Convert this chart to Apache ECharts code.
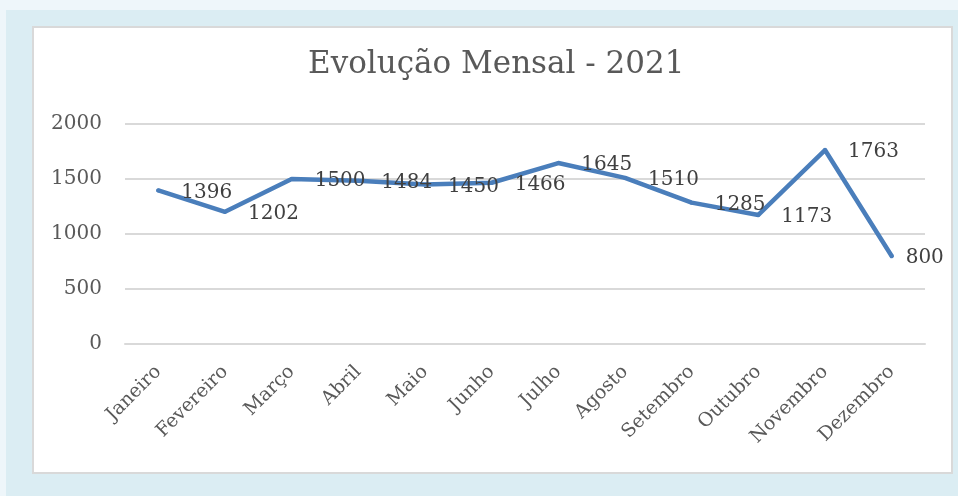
<!DOCTYPE html>
<html>
<head>
<meta charset="utf-8">
<script src="https://cdn.jsdelivr.net/npm/echarts@6/dist/echarts.min.js"></script>
<style>
  html, body { margin: 0; padding: 0; background: #eef6fa; }
  #main { width: 958px; height: 496px; }
</style>
</head>
<body>
<div id="main"></div>
<script>
var meses = ['Janeiro', 'Fevereiro', 'Março', 'Abril', 'Maio', 'Junho', 'Julho', 'Agosto', 'Setembro', 'Outubro', 'Novembro', 'Dezembro']
var valores = [1396, 1202, 1500, 1484, 1450, 1466, 1645, 1510, 1285, 1173, 1763, 800]
var titulo = 'Evolução Mensal - 2021'

var fonte = '"DejaVu Serif", "Liberation Serif", serif'

var chart = echarts.init(document.getElementById('main'))

// o ultimo rotulo fica mais perto do ponto (nao cabe na caixa)
var dados = valores.map(function (v, i) {
  if (i == valores.length - 1) return { value: v, label: { distance: 12 } }
  return v
})

var option = {
  backgroundColor: '#eef6fa',
  animation: false,
  // painel azul claro + caixa branca
  graphic: [
    { type: 'rect', z: -10, shape: { x: 6, y: 10, width: 952, height: 486 }, style: { fill: '#dbedf3' } },
    { type: 'rect', z: -9, shape: { x: 33, y: 27, width: 919, height: 446 }, style: { fill: '#ffffff', stroke: '#d9d9d9', lineWidth: 2 } }
  ],
  title: {
    text: titulo,
    left: 303,
    top: 44,
    textStyle: { fontFamily: fonte, fontSize: 31, fontWeight: 'normal', color: '#595959' }
  },
  grid: { left: 125, right: 33, top: 124, bottom: 152 },
  xAxis: {
    type: 'category',
    data: meses,
    boundaryGap: true,
    axisTick: { show: false },
    axisLine: { show: true, lineStyle: { color: '#d9d9d9', width: 2 } },
    axisLabel: { rotate: 45, margin: 25, fontFamily: fonte, fontSize: 19, color: '#595959', interval: 0 }
  },
  yAxis: {
    type: 'value',
    min: 0,
    max: 2000,
    interval: 500,
    axisLine: { show: false },
    axisTick: { show: false },
    axisLabel: {
      margin: 23, fontFamily: fonte, fontSize: 20, color: '#595959',
      formatter: function (v) { return String(v) }
    },
    splitLine: { lineStyle: { color: '#d9d9d9', width: 2 } }
  },
  series: [{
    type: 'line',
    data: dados,
    symbol: 'circle',
    symbolSize: 4,
    showSymbol: true,
    itemStyle: { color: '#4a7ebb', borderWidth: 0 },
    lineStyle: { color: '#4a7ebb', width: 4.5, cap: 'round', join: 'round' },
    label: {
      show: true,
      position: 'right',
      distance: 21,
      offset: [0, 2],
      fontFamily: fonte,
      fontSize: 20,
      color: '#404040'
    }
  }]
}

chart.setOption(option)
</script>
</body>
</html>
